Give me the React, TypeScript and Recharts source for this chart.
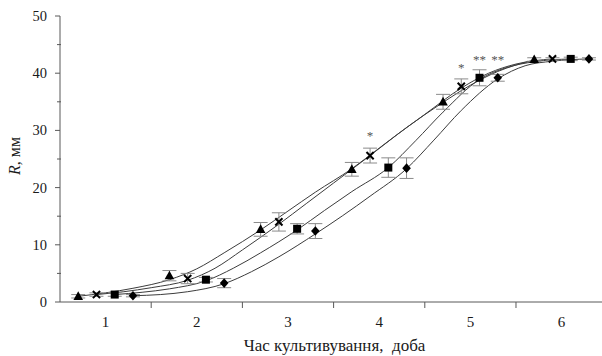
import React from 'react';
import { ComposedChart, Line, Scatter, XAxis, YAxis, ErrorBar, Label } from 'recharts';

const FONT = '"Liberation Serif", "DejaVu Serif", serif';

// Measured points (day offsets per series)
const triX = [0.7, 1.7, 2.7, 3.7, 4.7, 5.7];
const triY = [1.0, 4.6, 12.7, 23.2, 35.0, 42.4];
const triErr = [0.3, 0.9, 1.2, 1.2, 1.3, 0.3];

const crossX = [0.9, 1.9, 2.9, 3.9, 4.9, 5.9];
const crossY = [1.3, 4.1, 14.0, 25.6, 37.7, 42.5];
const crossErr = [0.3, 0.9, 1.6, 1.3, 1.3, 0.2];

const sqX = [1.1, 2.1, 3.1, 4.1, 5.1, 6.1];
const sqY = [1.3, 3.9, 12.8, 23.5, 39.2, 42.5];
const sqErr = [0.3, 0.4, 0.9, 1.7, 1.4, 0.3];

const diaX = [1.3, 2.3, 3.3, 4.3, 5.3, 6.3];
const diaY = [1.1, 3.3, 12.4, 23.4, 39.2, 42.5];
const diaErr = [0.2, 0.8, 1.3, 1.8, 0.6, 0.2];

// Fitted curves
const triCurveX = [0.7, 1.0, 1.3, 1.7, 2.0, 2.3, 2.7, 3.0, 3.3, 3.7, 4.0, 4.3, 4.7, 5.0, 5.3, 5.7];
const triCurveY = [1.0, 1.6, 2.4, 3.9, 5.8, 8.6, 12.6, 15.9, 19.2, 23.3, 26.9, 30.5, 34.9, 37.9, 40.3, 42.3];

const crossCurveX = [0.9, 1.2, 1.5, 1.9, 2.2, 2.5, 2.9, 3.2, 3.5, 3.9, 4.2, 4.5, 4.9, 5.2, 5.5, 5.9];
const crossCurveY = [1.3, 1.8, 2.5, 3.8, 5.9, 9.1, 13.6, 17.2, 20.8, 25.6, 29.3, 32.8, 37.4, 40.0, 41.6, 42.5];

const sqCurveX = [1.1, 1.4, 1.7, 2.1, 2.4, 2.7, 3.1, 3.4, 3.7, 4.1, 4.4, 4.7, 5.1, 5.4, 5.7, 6.1];
const sqCurveY = [1.3, 1.7, 2.3, 3.7, 5.9, 8.6, 12.6, 16.0, 19.3, 23.5, 28.2, 33.2, 38.9, 41.0, 42.0, 42.5];

const diaCurveX = [1.3, 1.6, 1.9, 2.3, 2.6, 2.9, 3.3, 3.6, 3.9, 4.3, 4.6, 4.9, 5.3, 5.6, 5.9, 6.3];
const diaCurveY = [1.1, 1.3, 1.8, 3.2, 5.3, 7.9, 11.9, 15.1, 18.5, 23.3, 28.3, 33.5, 39.0, 41.3, 42.1, 42.5];

// Significance marks
const starX = [3.9, 4.9, 5.1, 5.3];
const starY = [29.3, 41.3, 42.7, 42.7];
const starText = ['*', '*', '**', '**'];

const xTicks = [1, 1.5, 2, 2.5, 3, 3.5, 4, 4.5, 5, 5.5, 6];
const yTicks = [0, 5, 10, 15, 20, 25, 30, 35, 40, 45, 50];

const pts = (xs: number[], ys: number[], es?: number[]) =>
  xs.map((x, i) => ({ x, y: ys[i], e: es ? es[i] : 0 }));

const triPts = pts(triX, triY, triErr);
const crossPts = pts(crossX, crossY, crossErr);
const sqPts = pts(sqX, sqY, sqErr);
const diaPts = pts(diaX, diaY, diaErr);
const starPts = starX.map((x, i) => ({ x, y: starY[i], t: starText[i] }));

const AXIS = '#595959';
const TEXT = '#1a1a1a';
const CURVE = '#3c3c3c';
const ERR = '#8a8a8a';

const txt = (size: number, extra: any = {}) => ({ fontFamily: FONT, fontSize: size, ...extra });

const XTick = (props: any) => {
  const { x, y, payload } = props;
  const v = payload.value;
  if (Number.isInteger(v)) {
    return (
      <text x={x} y={y + 25} textAnchor="middle" fill={TEXT} style={txt(15)}>
        {v}
      </text>
    );
  }
  return <line x1={x} x2={x} y1={y} y2={y + 6} stroke={AXIS} strokeWidth={1} />;
};

const YTick = (props: any) => {
  const { x, y, payload } = props;
  const v = payload.value;
  if (v % 10 === 0) {
    return (
      <g>
        <line x1={x - 5} x2={x} y1={y} y2={y} stroke={AXIS} strokeWidth={1} />
        <text x={x - 13} y={y + 4.9} textAnchor="end" fill={TEXT} style={txt(14.5)}>
          {v}
        </text>
      </g>
    );
  }
  return <line x1={x - 3} x2={x + 1} y1={y} y2={y} stroke={AXIS} strokeWidth={1} />;
};

const Triangle = (p: any) => (
  <polygon
    points={`${p.cx},${p.cy - 5} ${p.cx - 4.8},${p.cy + 3.6} ${p.cx + 4.8},${p.cy + 3.6}`}
    fill="#000"
  />
);
const Cross = (p: any) => (
  <g stroke="#000" strokeWidth={2}>
    <line x1={p.cx - 3.6} y1={p.cy - 3.6} x2={p.cx + 3.6} y2={p.cy + 3.6} />
    <line x1={p.cx - 3.6} y1={p.cy + 3.6} x2={p.cx + 3.6} y2={p.cy - 3.6} />
  </g>
);
const Square = (p: any) => <rect x={p.cx - 4} y={p.cy - 4} width={8} height={8} fill="#000" />;
const Diamond = (p: any) => (
  <polygon
    points={`${p.cx},${p.cy - 4.8} ${p.cx + 4.3},${p.cy} ${p.cx},${p.cy + 4.8} ${p.cx - 4.3},${p.cy}`}
    fill="#000"
  />
);
const Star = (p: any) => (
  <text x={p.cx} y={p.cy + 6} textAnchor="middle" fill="#555" style={txt(13)}>
    {p.payload.t}
  </text>
);

const XTitle = () => (
  <text x={334.5} y={350.5} textAnchor="middle" fill={TEXT} style={txt(17, { whiteSpace: 'pre' })}>
    {'Час культивування,  доба'}
  </text>
);

const YTitle = () => (
  <text
    x={20}
    y={156}
    transform="rotate(-90, 20, 156)"
    textAnchor="middle"
    fill={TEXT}
    style={txt(16)}
  >
    <tspan style={{ fontStyle: 'italic' }}>R</tspan>
    <tspan>, мм</tspan>
  </text>
);

export default function App() {
  return (
    <div
      style={{
        position: 'absolute',
        left: 0,
        top: 0,
        width: 602,
        height: 356,
        overflow: 'hidden',
        background: '#fff',
        fontFamily: FONT,
      }}
    >
      <ComposedChart width={602} height={356} margin={{ top: 16, right: 0, left: 0, bottom: 0 }} style={{ fontFamily: FONT }}>
        <XAxis
          type="number"
          dataKey="x"
          domain={[0.5, 6.443]}
          ticks={xTicks}
          interval={0}
          allowDataOverflow
          height={54}
          tickSize={0}
          tickMargin={0}
          tickLine={false}
          tick={<XTick />}
          axisLine={{ stroke: AXIS, strokeWidth: 1 }}
        >
          <Label content={<XTitle />} />
        </XAxis>
        <YAxis
          type="number"
          dataKey="y"
          domain={[0, 50]}
          ticks={yTicks}
          interval={0}
          width={60}
          tickSize={0}
          tickMargin={0}
          tickLine={false}
          tick={<YTick />}
          axisLine={{ stroke: AXIS, strokeWidth: 1 }}
        >
          <Label content={<YTitle />} />
        </YAxis>

        <Line data={pts(triCurveX, triCurveY)} dataKey="y" type="monotone" stroke={CURVE} strokeWidth={1} dot={false} isAnimationActive={false} />
        <Line data={pts(crossCurveX, crossCurveY)} dataKey="y" type="monotone" stroke={CURVE} strokeWidth={1} dot={false} isAnimationActive={false} />
        <Line data={pts(sqCurveX, sqCurveY)} dataKey="y" type="monotone" stroke={CURVE} strokeWidth={1} dot={false} isAnimationActive={false} />
        <Line data={pts(diaCurveX, diaCurveY)} dataKey="y" type="monotone" stroke={CURVE} strokeWidth={1} dot={false} isAnimationActive={false} />

        <Scatter data={triPts} dataKey="y" shape={<Triangle />} isAnimationActive={false}>
          <ErrorBar dataKey="e" direction="y" width={7} stroke={ERR} strokeWidth={1} />
        </Scatter>
        <Scatter data={crossPts} dataKey="y" shape={<Cross />} isAnimationActive={false}>
          <ErrorBar dataKey="e" direction="y" width={7} stroke={ERR} strokeWidth={1} />
        </Scatter>
        <Scatter data={sqPts} dataKey="y" shape={<Square />} isAnimationActive={false}>
          <ErrorBar dataKey="e" direction="y" width={7} stroke={ERR} strokeWidth={1} />
        </Scatter>
        <Scatter data={diaPts} dataKey="y" shape={<Diamond />} isAnimationActive={false}>
          <ErrorBar dataKey="e" direction="y" width={7} stroke={ERR} strokeWidth={1} />
        </Scatter>
        <Scatter data={starPts} dataKey="y" shape={<Star />} isAnimationActive={false} />
      </ComposedChart>
    </div>
  );
}
